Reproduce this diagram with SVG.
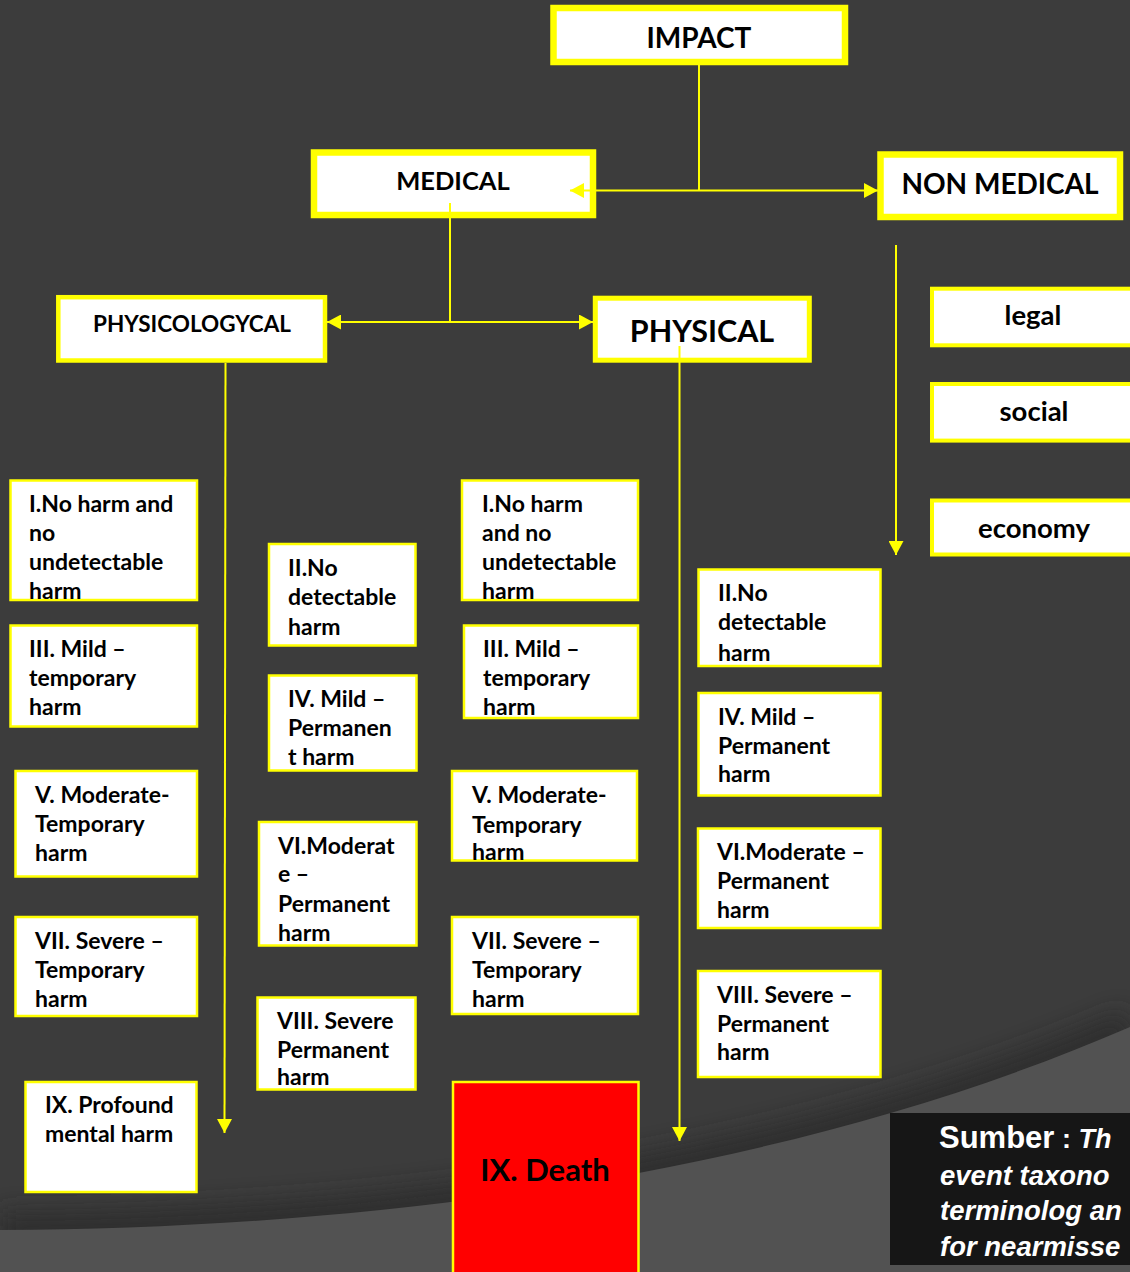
<svg xmlns="http://www.w3.org/2000/svg" width="1130" height="1272" viewBox="0 0 1130 1272">
  <defs>
    <style>
      .box{fill:#ffffff;stroke:#ffff00;stroke-width:2.5}
      .head{fill:#ffffff;stroke:#ffff00}
      .t{font-family:Lato,'Open Sans','Liberation Sans',sans-serif;font-weight:700;font-size:23px;fill:#000000}
      .c{text-anchor:middle}
      .link{fill:none;stroke:#ffff00;stroke-width:2}
      .src{font-family:'Liberation Sans',Arial,sans-serif;font-weight:700;fill:#ffffff}
    </style>
    <marker id="arrow" viewBox="0 0 14 15" refX="14" refY="7.5" markerWidth="14" markerHeight="15" markerUnits="userSpaceOnUse" orient="auto-start-reverse">
      <path d="M0,0 L14,7.5 L0,15 Z" fill="#ffff00"/>
    </marker>
    <filter id="soft" x="-10%" y="-50%" width="120%" height="200%">
      <feGaussianBlur stdDeviation="12"/>
    </filter>
  </defs>

  <!-- backdrop -->
  <rect x="0" y="0" width="1130" height="1272" fill="#3c3c3c"/>
  <path d="M0,1230 C400,1228 800,1170 1130,1027" fill="none" stroke="#2c2c2c" stroke-width="34" filter="url(#soft)" opacity="0.8"/>
  <path d="M0,1230 C400,1228 800,1170 1130,1027 L1130,1272 L0,1272 Z" fill="#525252"/>

  <!-- top level -->
  <g id="impact">
    <rect class="head" x="553.5" y="8" width="291.5" height="54" stroke-width="6.5"/>
    <text class="t c" x="699" y="48" style="font-size:28px">IMPACT</text>
  </g>
  <g id="medical">
    <rect class="head" x="314" y="152.5" width="279" height="62.5" stroke-width="6.5"/>
    <text class="t c" x="453" y="190" style="font-size:25.5px">MEDICAL</text>
  </g>
  <g id="non-medical">
    <rect class="head" x="880.5" y="154.5" width="239.5" height="62.5" stroke-width="6.5"/>
    <text class="t c" x="1000" y="194" style="font-size:28px">NON MEDICAL</text>
  </g>
  <g id="physicologycal">
    <rect class="head" x="58.3" y="297.2" width="266.7" height="63.3" stroke-width="4.5"/>
    <text class="t c" x="192" y="332" style="font-size:22.5px">PHYSICOLOGYCAL</text>
  </g>
  <g id="physical">
    <rect class="head" x="595.3" y="298.2" width="214" height="62" stroke-width="5"/>
    <text class="t c" x="702" y="342" style="font-size:30.5px">PHYSICAL</text>
  </g>

  <!-- non medical categories -->
  <g id="legal">
    <rect class="head" x="932" y="288.7" width="220" height="56.6" stroke-width="4"/>
    <text class="t c" x="1033" y="325" style="font-size:27.5px">legal</text>
  </g>
  <g id="social">
    <rect class="head" x="932" y="384" width="220" height="56.6" stroke-width="4"/>
    <text class="t c" x="1034" y="421" style="font-size:27.5px">social</text>
  </g>
  <g id="economy">
    <rect class="head" x="932" y="500.5" width="220" height="54" stroke-width="4"/>
    <text class="t c" x="1034" y="538" style="font-size:27.5px">economy</text>
  </g>

  <!-- psychological harm levels -->
  <g id="psy-1">
    <rect class="box" x="10.5" y="480.5" width="186.5" height="119.5"/>
    <text class="t"><tspan x="29" y="511.5">I.No harm and</tspan><tspan x="29" y="540.5">no</tspan><tspan x="29" y="569.5">undetectable</tspan><tspan x="29" y="598.5">harm</tspan></text>
  </g>
  <g id="psy-3">
    <rect class="box" x="10.5" y="625.5" width="186.5" height="101"/>
    <text class="t"><tspan x="29" y="656.5">III. Mild –</tspan><tspan x="29" y="686">temporary</tspan><tspan x="29" y="715">harm</tspan></text>
  </g>
  <g id="psy-5">
    <rect class="box" x="15.5" y="771" width="181.5" height="105.5"/>
    <text class="t"><tspan x="35" y="802.5">V. Moderate-</tspan><tspan x="35" y="831.5">Temporary</tspan><tspan x="35" y="860.5">harm</tspan></text>
  </g>
  <g id="psy-7">
    <rect class="box" x="15.5" y="917" width="181.5" height="99"/>
    <text class="t"><tspan x="35" y="948.5">VII. Severe –</tspan><tspan x="35" y="978">Temporary</tspan><tspan x="35" y="1006.5">harm</tspan></text>
  </g>
  <g id="psy-9">
    <rect class="box" x="25.5" y="1082" width="171" height="110"/>
    <text class="t"><tspan x="45" y="1112.5">IX. Profound</tspan><tspan x="45" y="1141.5">mental harm</tspan></text>
  </g>
  <g id="psy-2">
    <rect class="box" x="269" y="544" width="146.5" height="101.5"/>
    <text class="t"><tspan x="288" y="576">II.No</tspan><tspan x="288" y="605">detectable</tspan><tspan x="288" y="635">harm</tspan></text>
  </g>
  <g id="psy-4">
    <rect class="box" x="269" y="675.5" width="147.5" height="95"/>
    <text class="t"><tspan x="288" y="707">IV. Mild –</tspan><tspan x="288" y="736">Permanen</tspan><tspan x="288" y="765">t harm</tspan></text>
  </g>
  <g id="psy-6">
    <rect class="box" x="259" y="822" width="157.5" height="123.5"/>
    <text class="t"><tspan x="278" y="853.5">VI.Moderat</tspan><tspan x="278" y="882">e –</tspan><tspan x="278" y="911.5">Permanent</tspan><tspan x="278" y="940.5">harm</tspan></text>
  </g>
  <g id="psy-8">
    <rect class="box" x="257.5" y="997.5" width="158" height="92"/>
    <text class="t"><tspan x="277" y="1028.5">VIII. Severe</tspan><tspan x="277" y="1057.5">Permanent</tspan><tspan x="277" y="1085">harm</tspan></text>
  </g>

  <!-- physical harm levels -->
  <g id="phy-1">
    <rect class="box" x="462" y="480.5" width="176" height="119.5"/>
    <text class="t"><tspan x="482" y="511.5">I.No harm</tspan><tspan x="482" y="540.5">and no</tspan><tspan x="482" y="569.5">undetectable</tspan><tspan x="482" y="598.5">harm</tspan></text>
  </g>
  <g id="phy-3">
    <rect class="box" x="464" y="625.5" width="174" height="92.5"/>
    <text class="t"><tspan x="483" y="656.5">III. Mild –</tspan><tspan x="483" y="686">temporary</tspan><tspan x="483" y="715">harm</tspan></text>
  </g>
  <g id="phy-5">
    <rect class="box" x="452" y="771" width="185" height="89.5"/>
    <text class="t"><tspan x="472" y="802.5">V. Moderate-</tspan><tspan x="472" y="832.5">Temporary</tspan><tspan x="472" y="860">harm</tspan></text>
  </g>
  <g id="phy-7">
    <rect class="box" x="452" y="917" width="186" height="97"/>
    <text class="t"><tspan x="472" y="949">VII. Severe –</tspan><tspan x="472" y="978">Temporary</tspan><tspan x="472" y="1006.5">harm</tspan></text>
  </g>
  <g id="phy-9">
    <rect x="453" y="1082" width="185.5" height="200" fill="#ff0000" stroke="#ffff00" stroke-width="2.5"/>
    <text class="t c" x="545" y="1181" style="font-size:31px">IX. Death</text>
  </g>
  <g id="phy-2">
    <rect class="box" x="698.5" y="569.5" width="182" height="96.5"/>
    <text class="t"><tspan x="718" y="600.5">II.No</tspan><tspan x="718" y="629.5">detectable</tspan><tspan x="718" y="660.5">harm</tspan></text>
  </g>
  <g id="phy-4">
    <rect class="box" x="698.5" y="693" width="182" height="102.5"/>
    <text class="t"><tspan x="718" y="725">IV. Mild –</tspan><tspan x="718" y="753.5">Permanent</tspan><tspan x="718" y="782">harm</tspan></text>
  </g>
  <g id="phy-6">
    <rect class="box" x="698" y="828.5" width="182.5" height="99.5"/>
    <text class="t"><tspan x="717" y="859.5">VI.Moderate –</tspan><tspan x="717" y="888.5">Permanent</tspan><tspan x="717" y="917.5">harm</tspan></text>
  </g>
  <g id="phy-8">
    <rect class="box" x="698" y="971" width="182.5" height="106"/>
    <text class="t"><tspan x="717" y="1003">VIII. Severe –</tspan><tspan x="717" y="1032">Permanent</tspan><tspan x="717" y="1060">harm</tspan></text>
  </g>

  <!-- source note, running off the right edge of the page -->
  <g id="source">
    <rect x="890" y="1113" width="240" height="152" fill="#161616"/>
    <text class="src" x="939" y="1148" font-size="31">Sumber<tspan font-size="27"> : </tspan><tspan font-size="27" font-style="italic">Th</tspan></text>
    <text class="src" font-style="italic" font-size="27.5"><tspan x="940" y="1185">event taxono</tspan><tspan x="940" y="1220">terminolog an</tspan><tspan x="940" y="1256">for nearmisse</tspan></text>
  </g>

  <!-- connectors -->
  <g id="connectors">
    <path class="link" d="M699,65 V190.5"/>
    <path class="link" d="M570,190.5 H878" marker-start="url(#arrow)" marker-end="url(#arrow)"/>
    <path class="link" d="M450,203 V322"/>
    <path class="link" d="M327,322 H593" marker-start="url(#arrow)" marker-end="url(#arrow)"/>
    <path class="link" d="M225.5,363 L224.5,1133" marker-end="url(#arrow)"/>
    <path class="link" d="M679.5,346 V1141" marker-end="url(#arrow)"/>
    <path class="link" d="M896,245 V555" marker-end="url(#arrow)"/>
  </g>
</svg>
